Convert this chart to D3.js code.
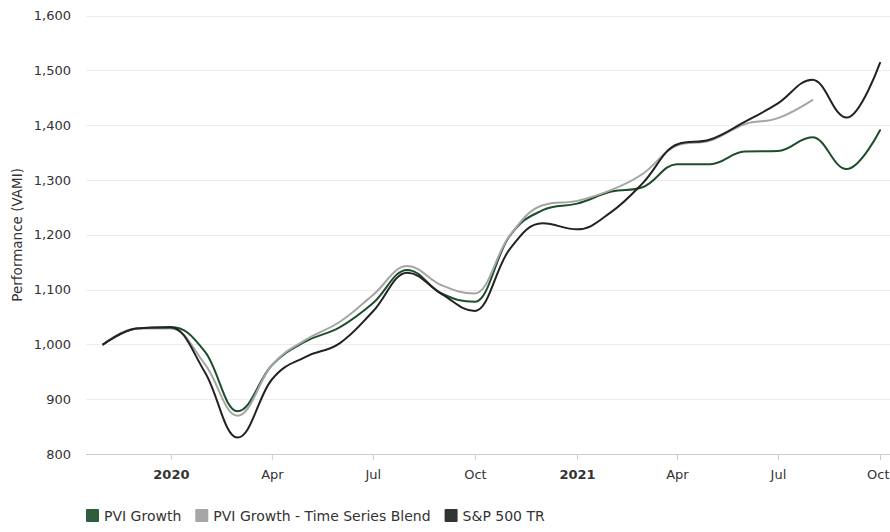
<!DOCTYPE html>
<html>
<head>
<meta charset="utf-8">
<script src="https://cdn.jsdelivr.net/npm/d3@7"></script>
<style>
  body { margin: 0; background: #fff; }
  text { font-family: "DejaVu Sans", Verdana, sans-serif; }
</style>
</head>
<body>
<svg id="chart" width="890" height="532"></svg>
<script>
// monthly VAMI values, plotted at the first of each month
const months = ["2019-11-01","2019-12-01","2020-01-01","2020-02-01","2020-03-01","2020-04-01",
  "2020-05-01","2020-06-01","2020-07-01","2020-08-01","2020-09-01","2020-10-01","2020-11-01",
  "2020-12-01","2021-01-01","2021-02-01","2021-03-01","2021-04-01","2021-05-01","2021-06-01",
  "2021-07-01","2021-08-01","2021-09-01","2021-10-01"];

const pviGrowth = [1000, 1029, 1032, 986, 878, 962, 1005, 1031, 1075, 1136, 1093, 1078,
  1197, 1245, 1257, 1279, 1287, 1329, 1329, 1352, 1353, 1378, 1320, 1391];
const pviBlend = [1000, 1029, 1029, 963, 870, 962, 1008, 1041, 1090, 1143, 1108, 1093,
  1198, 1254, 1262, 1282, 1311, 1363, 1372, 1402, 1413, 1446];
const sp500 = [1000, 1029, 1031, 948, 830, 936, 977, 1002, 1060, 1131, 1092, 1061,
  1173, 1221, 1210, 1242, 1294, 1365, 1374, 1406, 1440, 1483, 1414, 1514];

const seriesNames = ["PVI Growth", "PVI Growth - Time Series Blend", "S&P 500 TR"];
const seriesColors = ["#1d4d2b", "#a5a5a5", "#222222"];
const legendColors = ["#2e5e3e", "#a6a6a6", "#333333"];

const yTicks = [800, 900, 1000, 1100, 1200, 1300, 1400, 1500, 1600];
const xTicks = ["2020-01-01","2020-04-01","2020-07-01","2020-10-01",
  "2021-01-01","2021-04-01","2021-07-01","2021-10-01"];
const xTickLabels = ["2020", "Apr", "Jul", "Oct", "2021", "Apr", "Jul", "Oct"];

const svg = d3.select("#chart");
const plotLeft = 86, plotRight = 890, plotTop = 15.7, plotBottom = 454;

const x = d3.scaleUtc()
  .domain([new Date(Date.UTC(2019, 9, 16, 12)), new Date(Date.UTC(2021, 9, 10))])
  .range([plotLeft, plotRight]);
const y = d3.scaleLinear().domain([800, 1600]).range([plotBottom, plotTop]);

// grid
svg.append("g").selectAll("line")
  .data(yTicks.slice(1))
  .join("line")
  .attr("x1", plotLeft).attr("x2", plotRight)
  .attr("y1", d => Math.round(y(d)) + 0.5).attr("y2", d => Math.round(y(d)) + 0.5)
  .attr("stroke", "#ececec");

// y labels
svg.append("g").selectAll("text")
  .data(yTicks)
  .join("text")
  .attr("x", 71).attr("y", d => y(d) + 4.5)
  .attr("text-anchor", "end")
  .attr("font-size", 13)
  .attr("fill", "#333")
  .text(d3.format(","));

svg.append("text")
  .attr("transform", `translate(22,${(plotTop + plotBottom) / 2}) rotate(-90)`)
  .attr("text-anchor", "middle")
  .attr("font-size", 13.5)
  .attr("fill", "#333")
  .text("Performance (VAMI)");

// x axis
const xAxis = svg.append("g")
  .attr("transform", `translate(0,${plotBottom})`)
  .call(d3.axisBottom(x)
    .tickValues(xTicks.map(d => new Date(d)))
    .tickSize(6)
    .tickFormat((d, i) => xTickLabels[i]));
xAxis.select(".domain").attr("stroke", "#ccc").attr("d", `M${plotLeft},0.5H${plotRight}`);
xAxis.selectAll(".tick line").attr("stroke", "#ccc");
xAxis.selectAll(".tick text")
  .attr("font-family", "DejaVu Sans, Verdana, sans-serif")
  .attr("font-size", 13)
  .attr("fill", "#333")
  .attr("dy", "1.25em")
  .attr("font-weight", (d, i) => xTickLabels[i].length === 4 ? "bold" : "normal");
// keep the last label inside the chart
xAxis.selectAll(".tick text").filter((d, i) => i === xTicks.length - 1)
  .attr("text-anchor", "end")
  .attr("x", plotRight - 1 - x(new Date(xTicks[xTicks.length - 1])));

// Highcharts-style spline
function spline(pts) {
  const smoothing = 1.5, denom = smoothing + 1;
  const p = d3.path();
  let prevRX, prevRY;
  pts.forEach((pt, i) => {
    const [px, py] = pt;
    if (i === 0) { p.moveTo(px, py); return; }
    let lcx = px, lcy = py, rcx, rcy;
    const last = pts[i - 1], next = pts[i + 1];
    if (next) {
      const [lx, ly] = last, [nx, ny] = next;
      lcx = (smoothing * px + lx) / denom;
      lcy = (smoothing * py + ly) / denom;
      rcx = (smoothing * px + nx) / denom;
      rcy = (smoothing * py + ny) / denom;
      let corr = 0;
      if (rcx !== lcx) corr = ((rcy - lcy) * (rcx - px)) / (rcx - lcx) + py - rcy;
      lcy += corr; rcy += corr;
      if (lcy > ly && lcy > py) { lcy = Math.max(ly, py); rcy = 2 * py - lcy; }
      else if (lcy < ly && lcy < py) { lcy = Math.min(ly, py); rcy = 2 * py - lcy; }
      if (rcy > ny && rcy > py) { rcy = Math.max(ny, py); lcy = 2 * py - rcy; }
      else if (rcy < ny && rcy < py) { rcy = Math.min(ny, py); lcy = 2 * py - rcy; }
    }
    p.bezierCurveTo(prevRX ?? last[0], prevRY ?? last[1], lcx, lcy, px, py);
    prevRX = rcx; prevRY = rcy;
  });
  return p.toString();
}

const allSeries = [pviGrowth, pviBlend, sp500];
allSeries.forEach((vals, k) => {
  const pts = vals.map((v, i) => [x(new Date(months[i])), y(v)]);
  svg.append("path")
    .attr("d", spline(pts))
    .attr("fill", "none")
    .attr("stroke", seriesColors[k])
    .attr("stroke-width", 2)
    .attr("stroke-linejoin", "round")
    .attr("stroke-linecap", "round");
});

// legend
const legend = svg.append("g").attr("transform", "translate(86,509)");
let lx = 0;
seriesNames.forEach((name, k) => {
  const g = legend.append("g").attr("transform", `translate(${lx},0)`);
  g.append("rect").attr("width", 13).attr("height", 13).attr("rx", 1)
    .attr("fill", legendColors[k]);
  const t = g.append("text").attr("x", 18).attr("y", 11.5)
    .attr("font-size", 14).attr("fill", "#333").text(name);
  lx += 18 + t.node().getComputedTextLength() + 14;
});
</script>
</body>
</html>
